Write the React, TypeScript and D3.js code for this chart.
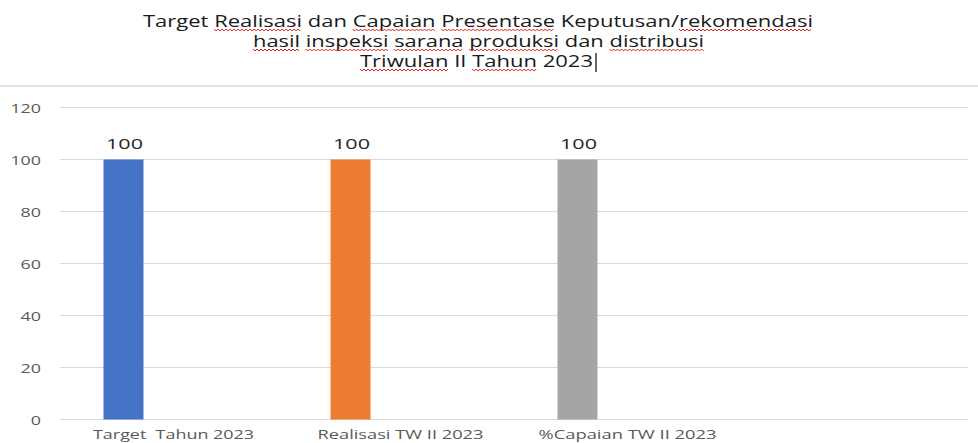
import React, { useEffect, useRef } from 'react';
import * as d3 from 'd3';

const categories = ['Target  Tahun 2023', 'Realisasi TW II 2023', '%Capaian TW II 2023'];
const values = [100, 100, 100];
const barColors = ['#4472C4', '#ED7D31', '#A5A5A5'];
const yTicks = [0, 20, 40, 60, 80, 100, 120];

const titleLines = [
  'Target Realisasi dan Capaian Presentase Keputusan/rekomendasi',
  'hasil inspeksi sarana produksi dan distribusi',
  'Triwulan II Tahun 2023',
];
// words marked by the spell checker in the original screenshot
const flaggedWords = [
  ['Realisasi', 'Capaian', 'Presentase', 'rekomendasi'],
  ['hasil', 'inspeksi', 'sarana', 'produksi', 'distribusi'],
  ['Triwulan', 'Tahun'],
];

const W = 978;
const H = 443;
const FONT = '"Open Sans", "Noto Sans", sans-serif';

const App: React.FC = () => {
  const svgRef = useRef<SVGSVGElement>(null);

  // the image was stretched sideways, so every text gets a fixed width
  const titleWidths = [670, 451, 233];
  const labelWidths = [161, 166, 178];

  const x = d3.scaleBand<string>()
    .domain([...categories, '']) // empty fourth slot, as in the original plot area
    .range([60, 968]);

  // clustered layout: each value sits in the first slot of its cluster
  const slot = d3.scaleBand<string>()
    .domain(['a', 'b', 'c'])
    .range([0, 140])
    .paddingInner(0.2);

  const y = d3.scaleLinear().domain([0, 120]).range([419.5, 107.5]);

  const barX = (c: string) => (x(c) || 0) + x.bandwidth() / 2 - 70 + (slot('a') || 0);

  useEffect(() => {
    if (!svgRef.current) return;
    const svg = d3.select(svgRef.current);
    svg.selectAll('.squiggle').remove();

    svg.selectAll<SVGTextElement, unknown>('text.title-line').each(function (_d, i) {
      const line = titleLines[i];
      const baseY = +(this.getAttribute('y') || 0);
      flaggedWords[i].forEach(word => {
        const start = line.indexOf(word);
        if (start < 0) return;
        const end = start + word.length - 1;
        const x0 = this.getStartPositionOfChar(start).x;
        const x1 = this.getEndPositionOfChar(end).x;
        const pts: [number, number][] = [];
        let k = 0;
        for (let px = x0; px <= x1; px += 2, k++) {
          pts.push([px, baseY + 3.5 + (k % 2 === 0 ? -1 : 1)]);
        }
        svg.append('path')
          .attr('class', 'squiggle')
          .attr('d', d3.line()(pts) || '')
          .attr('fill', 'none')
          .attr('stroke', '#E0241B')
          .attr('stroke-width', 1);
      });
    });
  }, []);

  return (
    <svg
      ref={svgRef}
      width={W}
      height={H}
      style={{ position: 'absolute', left: 0, top: 0, background: '#fff' }}
      fontFamily={FONT}
    >
      <rect width={W} height={H} fill="#fff" />

      {titleLines.map((t, i) => (
        <text
          key={t}
          className="title-line"
          x={[478, 478.5, 476.5][i]}
          y={26.5 + i * 20}
          textAnchor="middle"
          fontSize={17}
          fill="#1a1a1a"
          textLength={titleWidths[i]}
          lengthAdjust="spacingAndGlyphs"
        >
          {t}
        </text>
      ))}
      {/* text cursor after the title */}
      <line x1={596} x2={596} y1={53} y2={72} stroke="#000" strokeWidth={1.2} />

      <line x1={0} x2={W} y1={86} y2={86} stroke="#D9D9D9" strokeWidth={1.3} />

      {yTicks.map(t => (
        <g key={t}>
          <line x1={60} x2={968} y1={y(t)} y2={y(t)} stroke="#D9D9D9" strokeWidth={1} />
          <text
            x={41}
            y={y(t) + 5}
            textAnchor="end"
            fontSize={13}
            fill="#595959"
            textLength={String(t).length * 10.2}
            lengthAdjust="spacingAndGlyphs"
          >
            {t}
          </text>
        </g>
      ))}

      {categories.map((c, i) => (
        <g key={c}>
          <rect
            x={barX(c)}
            y={y(values[i])}
            width={slot.bandwidth()}
            height={y(0) - y(values[i])}
            fill={barColors[i]}
          />
          <text
            x={barX(c) + slot.bandwidth() / 2 + 1}
            y={y(values[i]) - 11}
            textAnchor="middle"
            fontSize={14}
            fill="#262626"
            textLength={37}
            lengthAdjust="spacingAndGlyphs"
          >
            {values[i]}
          </text>
          <text
            x={(x(c) || 0) + x.bandwidth() / 2}
            y={439}
            textAnchor="middle"
            fontSize={13.5}
            fill="#595959"
            style={{ whiteSpace: 'pre' }}
            textLength={labelWidths[i]}
            lengthAdjust="spacingAndGlyphs"
          >
            {c}
          </text>
        </g>
      ))}
    </svg>
  );
};

export default App;
